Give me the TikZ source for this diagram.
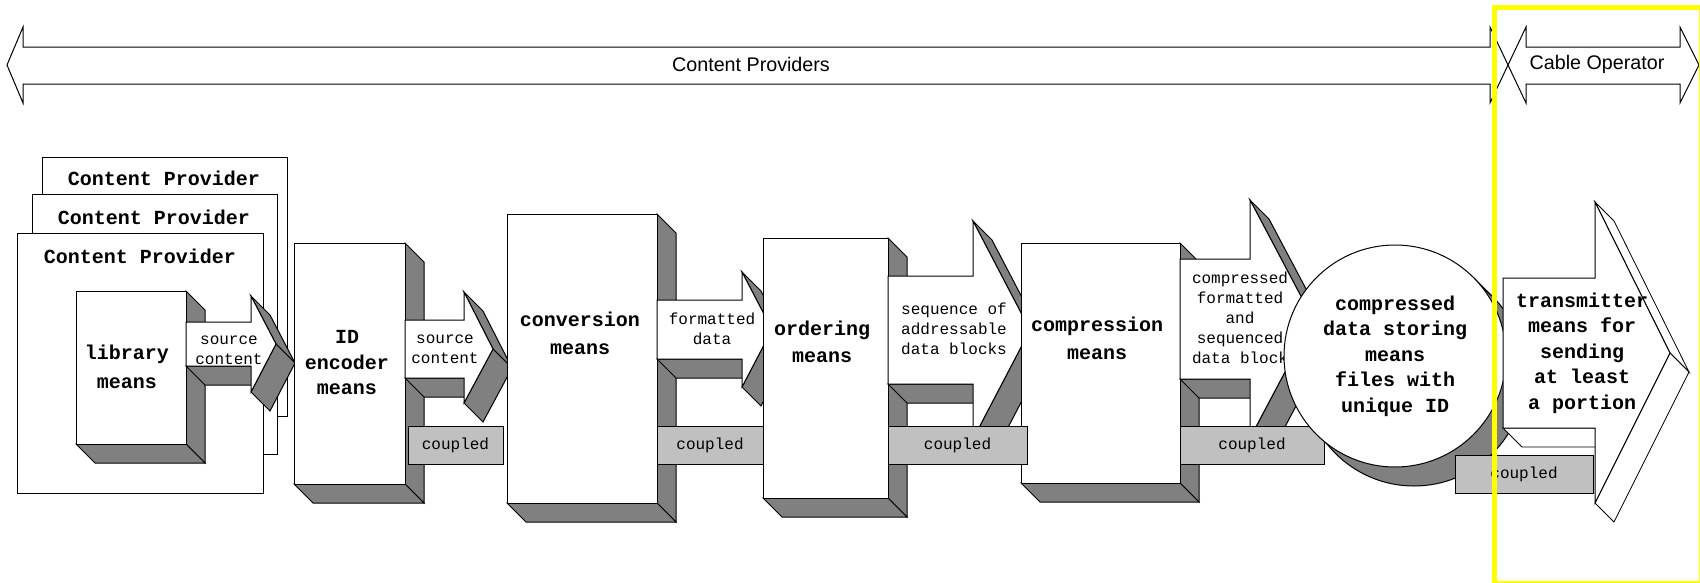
\documentclass[tikz,border=0pt]{standalone}
\usepackage{fontspec}
\setmonofont{Liberation Mono}
\setsansfont{Liberation Sans}

\definecolor{dark3d}{HTML}{808080}
\definecolor{couplegray}{HTML}{C0C0C0}
\definecolor{marker}{HTML}{FFFF00}

% depth of the extruded blocks
\newcommand{\depx}{19}
\newcommand{\depy}{19}

% front face x1,y1,x2,y2
\newcommand{\solidbox}[4]{%
  \path[shade3d] (#3,#2) -- (#3+\depx,#2+\depy) -- (#3+\depx,#4+\depy) -- (#3,#4) -- cycle;
  \path[shade3d] (#1,#4) -- (#3,#4) -- (#3+\depx,#4+\depy) -- (#1+\depx,#4+\depy) -- cycle;
  \path[front3d] (#1,#2) rectangle (#3,#4);
}

% body left, body top, body bottom, head base, head top, head bottom, tip
\newcommand{\solidarrow}[8][shade3d]{%
  \pgfmathsetmacro{\tipy}{(#3+#4)/2}
  \path[#1] (#5,#6) -- (#8,\tipy) -- (#8+\depx,\tipy+\depy) -- (#5+\depx,#6+\depy) -- cycle;
  \path[#1] (#2,#4) -- (#5,#4) -- (#5+\depx,#4+\depy) -- (#2+\depx,#4+\depy) -- cycle;
  \path[#1] (#5,#7) -- (#8,\tipy) -- (#8+\depx,\tipy+\depy) -- (#5+\depx,#7+\depy) -- cycle;
  \path[front3d] (#2,#3) -- (#5,#3) -- (#5,#6) -- (#8,\tipy) -- (#5,#7) -- (#5,#4) -- (#2,#4) -- cycle;
}

\begin{document}
\begin{tikzpicture}[x=1pt, y=-1pt,
    front3d/.style={fill=white, draw=black, line width=1pt},
    shade3d/.style={fill=dark3d, draw=black, line width=1pt},
    ghost3d/.style={fill=white, draw=black, line width=0.8pt},
    boldlabel/.style={font=\ttfamily\bfseries\fontsize{20}{25.5}\selectfont, align=center, inner sep=0pt},
    smalllabel/.style={font=\ttfamily\fontsize{16}{20}\selectfont, align=center, inner sep=0pt},
    banner/.style={font=\sffamily\fontsize{19.7}{24}\selectfont, inner sep=0pt},
    couplebox/.style={draw=black, fill=couplegray, line width=1pt, inner sep=0pt,
      font=\ttfamily\fontsize{16}{20}\selectfont}]
  \useasboundingbox (0,0) rectangle (1700,582);

  % who does what
  \path[front3d] (7,65) -- (23,27) -- (23,47) -- (1490,47) -- (1490,27) -- (1508,65)
    -- (1490,103) -- (1490,84) -- (23,84) -- (23,103) -- cycle;
  \path[front3d] (1508,65) -- (1526,27) -- (1526,47) -- (1680,47) -- (1680,27) -- (1699,65)
    -- (1680,103) -- (1680,84) -- (1526,84) -- (1526,103) -- cycle;
  \node[banner] (providers) at (751,64) {Content Providers};
  \node[banner] (operator) at (1597,64) {Cable Operator};

  % content providers
  \path[front3d] (42,157) rectangle (287,416);
  \node[boldlabel] (cp3) at (164,178) {Content Provider};
  \path[front3d] (32,194) rectangle (277,454);
  \node[boldlabel] (cp2) at (154,217) {Content Provider};
  \path[front3d] (17,233) rectangle (263,493);
  \node[boldlabel] (cp1) at (140,256) {Content Provider};

  \solidbox{76}{291}{186}{444}
  \node[boldlabel] (library) at (127,367) {library\\[3pt]means};
  \solidarrow{186}{322}{366}{251}{296}{392}{276}
  \node[smalllabel] (src1) at (229,350) {source\\content};

  \solidbox{294}{243}{405}{484}
  \node[boldlabel] (encoder) at (347,363) {ID\\encoder\\means};
  \solidarrow{405}{320}{378}{464}{292}{403}{493}
  \node[smalllabel] (src2) at (445,349) {source\\content};
  \node[couplebox, minimum width=95pt, minimum height=38pt] (cpl1) at (455.5,445) {coupled};

  \solidbox{507}{214}{657}{503}
  \node[boldlabel] (conversion) at (580,333) {conversion\\[2.5pt]means};
  \solidarrow{657}{300}{359}{742}{272}{387}{772}
  \node[smalllabel] (fmt) at (712,329) {formatted\\data};
  \node[couplebox, minimum width=106pt, minimum height=38pt] (cpl2) at (710,445) {coupled};

  \solidbox{763}{238}{888}{498}
  \node[boldlabel] (ordering) at (822,342) {ordering\\[1.5pt]means};
  \solidarrow{888}{276}{384}{973}{221}{439}{1030}
  \node[smalllabel] (seq) at (954,329) {sequence of\\addressable\\data blocks};

  \solidbox{1021}{243}{1180}{483}
  \node[couplebox, minimum width=139pt, minimum height=38pt] (cpl3) at (957.5,445) {coupled};
  \node[boldlabel] (compression) at (1097,338) {compression\\[2.5pt]means};
  \solidarrow{1180}{259}{379}{1250}{200}{438}{1313}
  \node[smalllabel] (cmp) at (1240,318) {compressed\\formatted\\and\\sequenced\\data block};
  \node[couplebox, minimum width=144pt, minimum height=38pt] (cpl4) at (1252,445) {coupled};

  % storing means
  \fill[dark3d] (1316.5,434.5) -- (1473.5,277.5) -- (1492.5,296.5) -- (1335.5,453.5) -- cycle;
  \path[shade3d] (1414,375) circle (111pt);
  \draw[line width=1pt] (1473.5,277.5) -- (1492.5,296.5);
  \path[front3d] (1395,356) circle (111pt);
  \node[boldlabel] (storing) at (1395,356) {compressed\\data storing\\means\\files with\\unique ID};

  \solidarrow[ghost3d]{1503}{278}{428}{1595}{202}{503}{1670}
  \node[boldlabel] (transmitter) at (1582,353) {transmitter\\means for\\sending\\at least\\a portion};
  \node[couplebox, minimum width=138pt, minimum height=38pt] (cpl5) at (1524,474) {coupled};

  \draw[marker, line width=5pt] (1494,7.5) rectangle (1701.5,583);
\end{tikzpicture}
\end{document}
